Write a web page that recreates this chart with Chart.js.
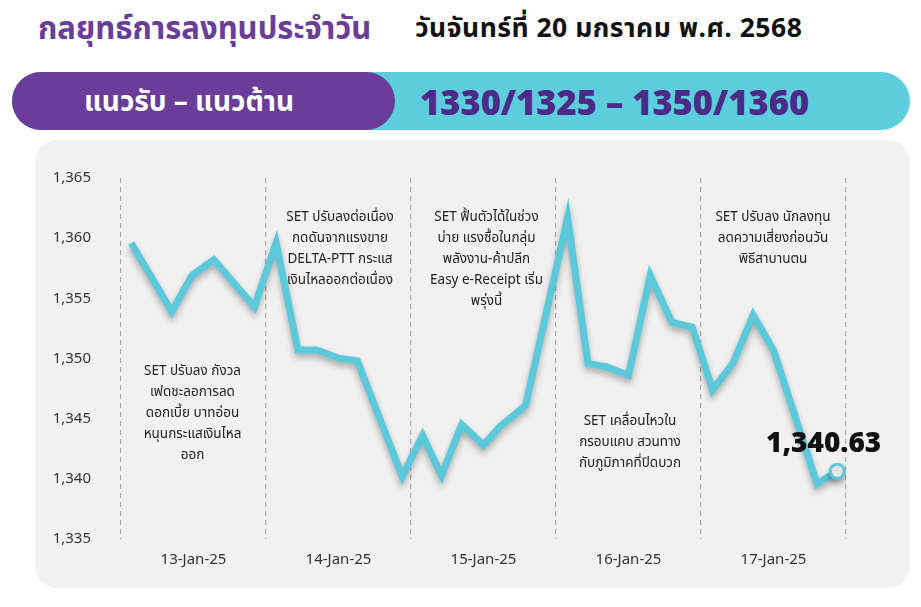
<!DOCTYPE html>
<html><head><meta charset="utf-8">
<script src="https://cdn.jsdelivr.net/npm/chart.js@4.4.1/dist/chart.umd.min.js"></script>
<style>
body{margin:0;width:921px;height:607px;background:#fff;font-family:"Noto Sans","Noto Sans Thai",sans-serif;position:relative;overflow:hidden}
.abs{position:absolute}
#panel{left:35px;top:140px;width:875px;height:448px;background:#f1f1f1;border-radius:22px}
#bar{left:12px;top:72px;width:898px;height:58px;background:#5ecedf;border-radius:29px}
#bar2{left:12px;top:72px;width:383px;height:58px;background:#6a3d98;border-radius:29px}
.note{font-size:13.5px;color:#222;text-align:center;line-height:21px}
</style></head><body>
<div class="abs" id="panel"></div>
<div class="abs" id="bar"></div><div class="abs" id="bar2"></div>
<div class="abs" style="left:38px;top:6px;font-size:31px;font-weight:bold;color:#6a3d98">กลยุทธ์การลงทุนประจำวัน</div>
<div class="abs" style="left:415px;top:9px;font-size:26.5px;font-weight:bold;color:#111;letter-spacing:0.5px">วันจันทร์ที่ 20 มกราคม พ.ศ. 2568</div>
<div class="abs" style="left:84px;top:81px;font-size:28px;font-weight:bold;color:#fff">แนวรับ – แนวต้าน</div>
<div class="abs" style="left:420px;top:78px;font-size:34.5px;font-weight:900;color:#4b2a88">1330/1325 – 1350/1360</div>
<canvas id="c" class="abs" style="left:0;top:0" width="921" height="607"></canvas>
<div class="abs note" style="left:130px;top:360px;width:125px">SET ปรับลง กังวล<br>เฟดชะลอการลด<br>ดอกเบี้ย บาทอ่อน<br>หนุนกระแสเงินไหล<br>ออก</div>
<div class="abs note" style="left:270px;top:206px;width:140px">SET ปรับลงต่อเนื่อง<br>กดดันจากแรงขาย<br>DELTA-PTT กระแส<br>เงินไหลออกต่อเนื่อง</div>
<div class="abs note" style="left:414px;top:206px;width:145px">SET ฟื้นตัวได้ในช่วง<br>บ่าย แรงซื้อในกลุ่ม<br>พลังงาน-ค้าปลีก<br>Easy e-Receipt เริ่ม<br>พรุ่งนี้</div>
<div class="abs note" style="left:560px;top:410px;width:140px">SET เคลื่อนไหวใน<br>กรอบแคบ สวนทาง<br>กับภูมิภาคที่ปิดบวก</div>
<div class="abs note" style="left:703px;top:206px;width:140px">SET ปรับลง นักลงทุน<br>ลดความเสี่ยงก่อนวัน<br>พิธีสาบานตน</div>
<div class="abs" style="left:766px;top:422px;font-size:28px;font-weight:900;color:#111">1,340.63</div>
<script>
const categories=["13-Jan-25","14-Jan-25","15-Jan-25","16-Jan-25","17-Jan-25"];
const xPos=[0.07,0.35,0.49,0.64,0.92,1.07,1.22,1.35,1.51,1.63,1.94,2.08,2.21,2.35,2.50,2.61,2.79,3.08,3.22,3.35,3.50,3.65,3.80,3.94,4.08,4.22,4.36,4.50,4.80,4.94];
const setIndex=[1359.6,1353.9,1356.9,1358.2,1354.3,1359.6,1350.7,1350.7,1350.0,1349.8,1340.2,1343.6,1340.3,1344.5,1342.8,1344.3,1346.1,1361.7,1349.6,1349.3,1348.6,1356.9,1353.0,1352.6,1347.4,1349.6,1353.6,1350.7,1339.6,1340.63];
const yTicks=[1335,1340,1345,1350,1355,1360,1365];
const pts=xPos.map((x,i)=>({x,y:setIndex[i]}));
const shadow={id:'sh',beforeDatasetDraw(c){const x=c.ctx;x.save();x.shadowColor='rgba(0,0,0,0.3)';x.shadowBlur=6;x.shadowOffsetY=4;},afterDatasetDraw(c){c.ctx.restore();}};
new Chart(document.getElementById('c'),{type:'line',
data:{datasets:[{data:pts,borderColor:'#5bc9da',borderWidth:7,tension:0,borderJoinStyle:'miter',
pointRadius:pts.map((p,i)=>i===pts.length-1?7:0),pointBackgroundColor:'#fff',pointBorderColor:'#5bc9da',pointBorderWidth:3}]},
plugins:[shadow],
options:{responsive:false,animation:false,events:[],
layout:{padding:{left:0,right:75,top:178,bottom:0}},
plugins:{legend:{display:false},tooltip:{enabled:false}},
scales:{
x:{type:'linear',min:0,max:5,afterBuildTicks(a){a.ticks=[0,0.5,1,1.5,2,2.5,3,3.5,4,4.5,5].map(v=>({value:v}));},
afterFit(a){a.height=68;},
ticks:{autoSkip:false,maxRotation:0,color:'#333',font:{size:15,family:'Noto Sans'},padding:12,callback:v=>(v%1===0.5)?categories[Math.floor(v)]:''},
grid:{color:c=>(c.tick&&c.tick.value%1===0)?'#aaa':'rgba(0,0,0,0)',lineWidth:1.2,drawTicks:false},
border:{display:false,dash:[5,4]}},
y:{min:1335,max:1365,afterBuildTicks(a){a.ticks=yTicks.map(v=>({value:v}));},
afterFit(a){a.width=121;},
ticks:{color:'#333',font:{size:15,family:'Noto Sans'},padding:22,callback:v=>v.toLocaleString('en-US')},
grid:{display:false},border:{display:false}}}}});
</script></body></html>
